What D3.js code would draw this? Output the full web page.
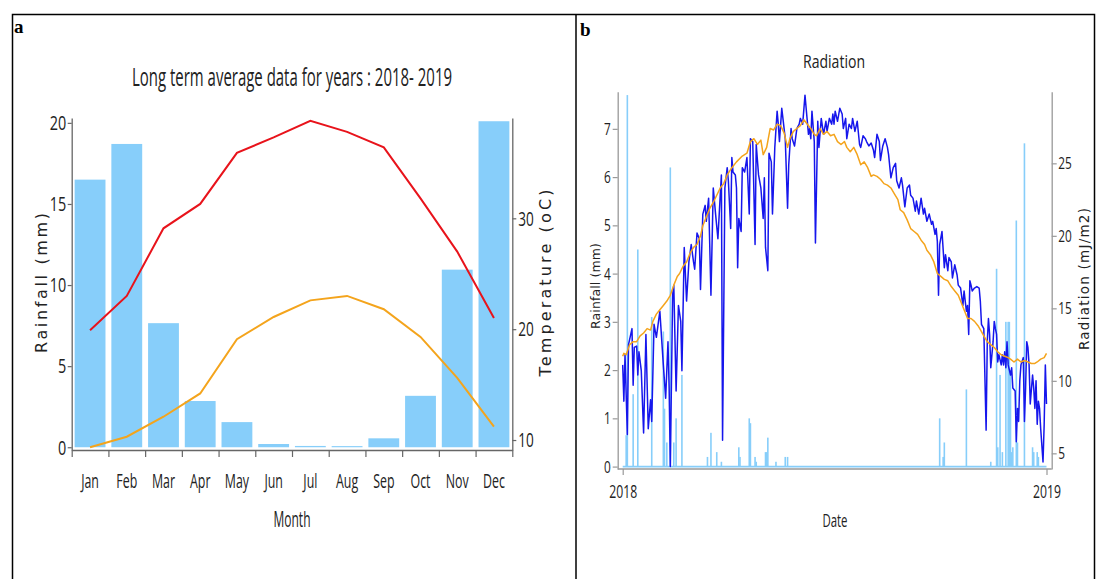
<!DOCTYPE html>
<html><head><meta charset="utf-8">
<script src="https://cdn.jsdelivr.net/npm/d3@7"></script>
<style>
body{margin:0;background:#fff;}
svg{display:block;}
text{font-family:"Open Sans",sans-serif;fill:#222;}
</style></head><body>
<svg id="c" width="1096" height="579"></svg>
<script>
// ---------- Panel a data ----------
const months = ["Jan","Feb","Mar","Apr","May","Jun","Jul","Aug","Sep","Oct","Nov","Dec"];
const rainfallMonthly = [16.5,18.7,7.65,2.85,1.55,0.2,0.08,0.07,0.55,3.17,10.95,20.1];
const tempMax = [19.9,23.0,29.1,31.3,35.9,37.3,38.8,37.8,36.4,31.8,27.0,21.0];
const tempMin = [9.35,10.3,12.1,14.2,19.1,21.1,22.6,23.0,21.8,19.3,15.6,11.2];
const rainTicksA = [0,5,10,15,20];
const tempTicks = [10,20,30];

// ---------- Panel b data (day of year 2018, value) ----------
const radDaily = [[0,11.1],[1,8.6],[2,11.8],[4,6.3],[5,12.5],[8,13.6],[9,9.7],[10,12.3],[12,12.4],[13,10.4],[14,12.0],[16,10.7],[18,6.4],[20,13.2],[22,6.7],[24,8.7],[25,7.2],[27,13.9],[29,13.0],[32,14.8],[35,11.1],[37,8.8],[39,12.7],[40,9.5],[41,4.1],[43,15.9],[44,16.6],[46,9.3],[48,15.2],[50,14.1],[51,10.7],[53,19.2],[55,15.5],[57,18.2],[59,19.4],[61,18.2],[62,17.7],[64,20.2],[66,19.8],[67,16.3],[69,21.5],[71,22.1],[72,21.0],[74,22.6],[76,15.9],[78,23.3],[80,21.5],[82,19.8],[84,22.8],[85,24.2],[86,5.9],[88,23.3],[90,24.7],[91,23.8],[93,20.5],[94,25.4],[95,24.4],[97,24.2],[98,23.3],[99,17.8],[100,21.2],[102,20.3],[103,24.7],[105,24.4],[107,25.4],[109,21.5],[110,26.7],[112,26.5],[114,19.4],[115,26.3],[117,24.2],[119,23.3],[121,21.2],[122,24.0],[123,19.2],[125,17.6],[126,25.7],[128,25.1],[129,21.5],[131,26.1],[133,28.6],[134,27.7],[135,26.5],[137,28.8],[138,28.1],[140,26.7],[142,21.9],[143,24.9],[145,27.4],[146,26.7],[148,26.2],[150,27.4],[152,27.7],[153,28.1],[155,27.7],[157,29.7],[158,28.8],[160,27.0],[161,27.4],[162,26.7],[163,28.6],[165,26.5],[166,19.5],[168,27.9],[169,26.1],[171,28.1],[173,27.0],[175,27.9],[176,27.2],[178,28.1],[180,27.7],[181,28.4],[182,27.7],[183,28.6],[185,27.9],[187,28.8],[189,28.4],[190,27.4],[192,28.1],[193,26.7],[195,27.7],[197,27.4],[198,28.1],[200,27.2],[202,27.9],[204,26.3],[205,26.1],[207,26.9],[209,26.7],[210,26.5],[212,26.2],[214,26.4],[216,25.9],[217,25.4],[219,27.0],[221,26.5],[222,25.2],[224,26.2],[226,26.7],[228,26.1],[229,25.6],[231,24.0],[233,24.7],[235,25.0],[236,23.8],[238,23.3],[240,24.0],[241,23.5],[243,22.0],[245,23.3],[247,23.5],[248,22.8],[250,22.6],[252,21.7],[253,22.4],[255,21.5],[257,22.6],[259,21.5],[260,21.9],[262,21.0],[264,21.5],[266,20.8],[267,21.0],[269,20.1],[270,20.5],[271,19.6],[272,15.9],[273,19.4],[275,20.3],[277,17.8],[278,18.7],[280,17.6],[281,18.5],[283,18.2],[284,17.1],[286,18.0],[288,17.3],[289,16.6],[291,16.4],[293,15.2],[294,16.2],[296,14.8],[297,15.2],[298,13.2],[299,16.9],[300,16.6],[301,16.2],[303,16.4],[305,16.5],[307,16.4],[308,15.5],[309,13.9],[311,13.6],[313,6.6],[314,12.7],[315,14.3],[316,13.2],[317,10.9],[319,12.7],[320,14.1],[321,13.6],[322,13.2],[323,11.3],[324,11.8],[326,11.1],[327,11.8],[328,11.1],[329,12.0],[330,10.9],[331,12.7],[332,11.1],[334,10.4],[335,10.9],[336,9.5],[338,9.3],[339,5.8],[340,8.1],[341,7.2],[342,10.0],[343,11.1],[345,11.6],[346,7.2],[347,9.5],[348,12.7],[349,12.3],[350,11.1],[351,8.4],[353,10.4],[354,9.5],[355,8.1],[356,10.0],[357,7.0],[358,8.6],[359,8.1],[360,6.7],[362,4.4],[363,7.0],[364,11.1],[365,8.4]];
const radAverage = [[0,11.7],[1,11.9],[3,11.8],[6,12.5],[9,12.7],[12,12.7],[15,13.1],[18,13.3],[21,13.6],[24,13.5],[26,14.1],[29,14.6],[32,14.9],[35,15.2],[38,15.5],[41,15.9],[44,16.6],[47,17.2],[49,17.4],[52,17.9],[55,18.2],[58,18.8],[61,19.2],[64,19.4],[67,20.0],[69,20.7],[72,21.3],[75,21.9],[78,22.3],[81,22.8],[84,23.3],[87,23.6],[90,24.2],[94,24.7],[98,25.1],[103,25.5],[107,25.7],[110,26.5],[113,26.7],[116,26.3],[119,26.6],[121,25.6],[124,26.1],[127,27.4],[130,27.3],[133,27.7],[136,27.6],[139,27.1],[142,26.1],[144,26.7],[147,27.2],[150,27.4],[153,27.6],[156,28.0],[159,27.7],[162,27.4],[165,27.0],[167,26.9],[170,27.4],[173,27.0],[176,27.2],[179,26.9],[182,27.0],[185,26.5],[188,26.3],[191,26.5],[193,26.1],[196,25.8],[199,26.1],[202,25.6],[205,24.9],[208,25.1],[211,24.7],[214,24.1],[216,24.2],[219,24.1],[222,23.9],[225,23.6],[228,23.5],[231,23.3],[234,22.9],[237,22.5],[239,21.8],[242,21.6],[245,21.1],[248,20.5],[251,20.3],[254,20.1],[257,19.7],[260,19.4],[262,19.0],[265,18.7],[268,18.2],[271,17.4],[274,17.2],[277,17.0],[280,16.9],[283,16.5],[286,16.2],[289,15.9],[291,15.5],[294,14.9],[297,14.3],[300,14.3],[303,14.1],[306,13.8],[309,13.4],[311,13.1],[314,12.7],[317,12.5],[320,12.3],[323,12.0],[326,11.8],[329,11.7],[332,11.6],[334,11.5],[337,11.3],[340,11.5],[343,11.3],[346,11.4],[349,11.3],[352,11.2],[355,11.2],[357,11.3],[360,11.5],[363,11.6],[365,11.9]];
const rainDaily = [[3,0.65],[4,7.7],[9,1.5],[13,4.5],[25,3.1],[35,2.8],[36,1.2],[38,0.5],[41,6.2],[44,0.5],[46,1.0],[51,1.9],[73,0.2],[76,0.7],[81,0.3],[85,0.1],[100,0.4],[101,0.2],[109,1.0],[110,0.9],[114,0.2],[115,0.1],[123,0.3],[124,0.3],[125,0.6],[132,0.1],[140,0.2],[142,0.2],[273,1.0],[276,0.2],[277,0.5],[296,1.6],[317,0.1],[322,4.1],[323,0.4],[325,1.9],[327,0.3],[330,3.0],[332,3.0],[333,3.0],[334,2.0],[335,0.3],[336,0.4],[339,5.1],[340,0.5],[346,6.7],[353,0.4],[354,0.3],[357,0.3],[358,0.2]];
const rainTicksB = [0,1,2,3,4,5,6,7];
const radTicks = [5,10,15,20,25];
const yearTicks = [2018, 2019];

const BAR = "#87cefa", RED = "#e8131b", ORANGE = "#f4a41c", BLUE = "#1616ec";
const svg = d3.select("#c");

// frame
svg.append("rect").attr("x",12.5).attr("y",14.5).attr("width",1082).attr("height",600)
  .attr("fill","none").attr("stroke","#000").attr("stroke-width",1.5);
svg.append("line").attr("x1",576).attr("x2",576).attr("y1",14).attr("y2",579)
  .attr("stroke","#000").attr("stroke-width",1.5);
svg.append("text").text("a").attr("x",14).attr("y",33)
  .style("font-family","'Liberation Serif',serif").style("font-weight","bold").style("font-size","19px").style("fill","#000");
svg.append("text").text("b").attr("x",580).attr("y",36)
  .style("font-family","'Liberation Serif',serif").style("font-weight","bold").style("font-size","19px").style("fill","#000");

function styleAxis(g, color, fontSize, sx, tx){
  g.selectAll("path.domain").attr("stroke", color).attr("stroke-width",1.3);
  g.selectAll(".tick line").attr("stroke", color).attr("stroke-width",1.2);
  const t = g.selectAll(".tick text").style("font-size", fontSize+"px").style("font-family","'Open Sans',sans-serif").attr("fill","#222");
  if (tx !== undefined) t.attr("x", tx/sx);
  t.attr("transform", `scale(${sx},1)`);
}

// ---------- Panel a ----------
const xa = d3.scaleBand().domain(months).range([71.7,512.3]).paddingInner(0.16).paddingOuter(0.08);
const xaEdge = d3.scaleLinear().domain([0,12]).range([71.7,512.3]);
const ya = d3.scaleLinear().domain([-0.17,20.3]).range([450,118]);
const yt = d3.scaleLinear().domain([9.1,39.05]).range([450,118]);
const gA = svg.append("g");

gA.selectAll("rect.bar").data(rainfallMonthly).join("rect").attr("class","bar")
  .attr("x",(d,i)=>xa(months[i])).attr("width",xa.bandwidth())
  .attr("y",d=>ya(d)).attr("height",d=>ya(0)-ya(d)).attr("fill",BAR);

const lineA = d3.line().x((d,i)=>xa(months[i])+xa.bandwidth()/2).y(d=>yt(d));
gA.append("path").datum(tempMax).attr("d",lineA).attr("fill","none").attr("stroke",RED).attr("stroke-width",2);
gA.append("path").datum(tempMin).attr("d",lineA).attr("fill","none").attr("stroke",ORANGE).attr("stroke-width",2);

const axL = gA.append("g").attr("transform","translate(71.7,0)")
  .call(d3.axisLeft(ya).tickValues(rainTicksA).tickSize(4).tickSizeOuter(0));
styleAxis(axL,"#666",20,0.72,-5.5);
axL.selectAll(".tick text").attr("dy","0.34em");

const axR = gA.append("g").attr("transform","translate(512.3,0)")
  .call(d3.axisRight(yt).tickValues(tempTicks).tickSize(4).tickSizeOuter(0));
styleAxis(axR,"#666",20,0.68,6);
axR.selectAll(".tick text").attr("dy","0.34em");

const axB = gA.append("g").attr("transform","translate(0,450)")
  .call(d3.axisBottom(xaEdge).tickValues(d3.range(13)).tickSize(7).tickSizeOuter(0).tickFormat(""));
styleAxis(axB,"#666",20,1);
const axM = gA.append("g").attr("transform","translate(0,450)")
  .call(d3.axisBottom(xa).tickSize(0));
axM.select("path.domain").remove();
styleAxis(axM,"#666",20,0.62);
axM.selectAll(".tick text").attr("y",38).attr("dy",null);

gA.append("text").text("Long term average data for years : 2018- 2019")
  .attr("x",292).attr("y",86).attr("text-anchor","middle")
  .attr("textLength",320).attr("lengthAdjust","spacingAndGlyphs").style("font-size","26px");
gA.append("text").text("Month").attr("x",292).attr("y",527).attr("text-anchor","middle")
  .attr("textLength",37).attr("lengthAdjust","spacingAndGlyphs").style("font-size","21px");
gA.append("text").text("Rainfall (mm)")
  .attr("transform","translate(41,283) rotate(-90)").attr("text-anchor","middle").attr("dy","0.36em")
  .attr("textLength",140).attr("lengthAdjust","spacing")
  .style("font-family","'DejaVu Sans',sans-serif").style("font-size","16px");
gA.append("text").text("Temperature (oC)")
  .attr("transform","translate(545,283) rotate(-90)").attr("text-anchor","middle").attr("dy","0.36em")
  .attr("textLength",187).attr("lengthAdjust","spacing")
  .style("font-family","'DejaVu Sans',sans-serif").style("font-size","16px");

// ---------- Panel b ----------
const t0 = new Date(yearTicks[0],0,1), t1 = new Date(yearTicks[1],0,1);
const dayDate = d => d3.timeDay.offset(t0, d);
const xb = d3.scaleTime().domain([t0,t1]).range([622.7,1046.5]);
const yb = d3.scaleLinear().domain([-0.05,7.77]).range([469,91.7]);
const yr = d3.scaleLinear().domain([3.92,29.94]).range([469,91.7]);
const gB = svg.append("g");

// rainfall: zero baseline and daily bars
gB.append("line").attr("x1",xb(t0)).attr("x2",xb(t1)).attr("y1",yb(0)).attr("y2",yb(0))
  .attr("stroke",BAR).attr("stroke-width",1.6);
gB.selectAll("rect.rb").data(rainDaily).join("rect").attr("class","rb")
  .attr("x",d=>xb(dayDate(d[0]))-0.8).attr("width",1.6)
  .attr("y",d=>yb(d[1])).attr("height",d=>yb(0)-yb(d[1])).attr("fill",BAR);

const lineB = d3.line().x(d=>xb(dayDate(d[0]))).y(d=>yr(d[1]));
gB.append("path").datum(radDaily).attr("d",lineB).attr("fill","none").attr("stroke",BLUE).attr("stroke-width",1.5).attr("stroke-linejoin","round");
gB.append("path").datum(radAverage).attr("d",lineB).attr("fill","none").attr("stroke",ORANGE).attr("stroke-width",1.5).attr("stroke-linejoin","round");

const bL = gB.append("g").attr("transform","translate(617.7,0)")
  .call(d3.axisLeft(yb).tickValues(rainTicksB).tickSize(5).tickSizeOuter(0));
styleAxis(bL,"#999",16,0.74,-7);
bL.selectAll(".tick text").attr("dy","0.34em");
const bR = gB.append("g").attr("transform","translate(1051.7,0)")
  .call(d3.axisRight(yr).tickValues(radTicks).tickSize(5).tickSizeOuter(0));
styleAxis(bR,"#999",16,0.74,6.5);
bR.selectAll(".tick text").attr("dy","0.34em");
gB.append("line").attr("x1",617.7).attr("x2",1051.7).attr("y1",469).attr("y2",469)
  .attr("stroke","#999").attr("stroke-width",1.3);
const bB = gB.append("g").attr("transform","translate(0,469)")
  .call(d3.axisBottom(xb).tickValues(yearTicks.map(y=>new Date(y,0,1))).tickFormat(d3.timeFormat("%Y")).tickSize(6).tickSizeOuter(0));
bB.select("path.domain").remove();
styleAxis(bB,"#999",18,0.68);
bB.selectAll(".tick text").attr("y",29).attr("dy",null);

gB.append("text").text("Radiation").attr("x",834).attr("y",68).attr("text-anchor","middle")
  .attr("textLength",62).attr("lengthAdjust","spacingAndGlyphs").style("font-size","18px");
gB.append("text").text("Date").attr("x",835).attr("y",527).attr("text-anchor","middle")
  .attr("textLength",25).attr("lengthAdjust","spacingAndGlyphs").style("font-size","18px");
gB.append("text").text("Rainfall (mm)")
  .attr("transform","translate(595,286) rotate(-90)").attr("text-anchor","middle").attr("dy","0.36em")
  .attr("textLength",86).attr("lengthAdjust","spacing")
  .style("font-family","'DejaVu Sans',sans-serif").style("font-size","12.5px");
gB.append("text").text("Radiation (mJ/m2)")
  .attr("transform","translate(1084,279) rotate(-90)").attr("text-anchor","middle").attr("dy","0.36em")
  .attr("textLength",142).attr("lengthAdjust","spacing")
  .style("font-family","'DejaVu Sans',sans-serif").style("font-size","13.5px");
</script>
</body></html>
